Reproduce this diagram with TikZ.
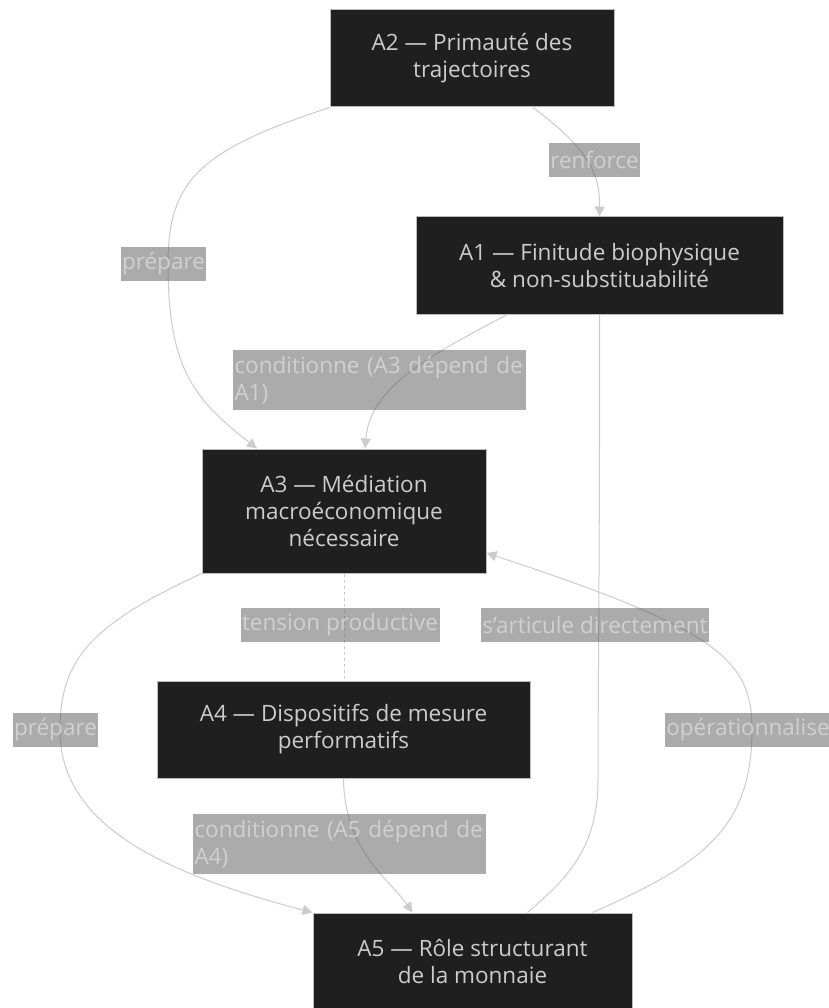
\documentclass[tikz,border=0pt]{standalone}
\usepackage{fontspec}
\setmainfont{Open Sans}
\usetikzlibrary{arrows.meta}
\definecolor{nodefill}{HTML}{1F1F1F}
\definecolor{nodetext}{HTML}{CCCCCC}
\definecolor{nodeborder}{HTML}{BBBBBB}
\definecolor{edgecol}{HTML}{CCCCCC}
\definecolor{lblfill}{HTML}{585858}
\definecolor{lbltext}{HTML}{D0D0D0}
\tikzset{
  box/.style={draw=nodeborder, fill=nodefill, text=nodetext, line width=1pt,
    inner sep=0pt, align=center, font=\fontsize{22.5}{27}\selectfont},
  lbl/.style={fill=lblfill, fill opacity=0.5, text opacity=1, text=lbltext,
    inner sep=1.5pt, minimum height=34pt, font=\fontsize{22.5}{27}\selectfont},
  lbltwo/.style={lbl, align=left, text width=290pt, minimum height=60pt},
  conn/.style={draw=edgecol, line width=1pt},
  arr/.style={conn, -{Triangle[length=10pt,width=10pt]}},
}
\begin{document}
\begin{tikzpicture}[x=1pt,y=-1pt]
\useasboundingbox (0,0) rectangle (828,1008);
\fill[white] (0,0) rectangle (828,1008);
% nodes
\node[box, minimum width=284pt, minimum height=97pt] (A2) at (472,58.5) {A2 — Primauté des\\trajectoires};
\node[box, minimum width=367pt, minimum height=97pt] (A1) at (599.5,265.5) {A1 — Finitude biophysique\\\& non-substituabilité};
\node[box, minimum width=284pt, minimum height=124pt] (A3) at (344,511) {A3 — Médiation\\macroéconomique\\nécessaire};
\node[box, minimum width=373pt, minimum height=97pt] (A4) at (343.5,729.5) {A4 — Dispositifs de mesure\\performatifs};
\node[box, minimum width=319pt, minimum height=97pt, text depth=0pt] (A5) at (472.5,961.5) {A5 — Rôle structurant\\de la monnaie};
% edges
\draw[arr] ([xshift=61pt]A2.south) .. controls (590,150) and (600,175) .. (A1.north);
\draw[arr] (A2.south west) .. controls (200,150) and (168,180) .. (168,264)
   .. controls (168,370) and (195,400) .. ([xshift=-87pt]A3.north);
\draw[arr] ([xshift=-92pt]A1.south) .. controls (420,360) and (370,390) .. ([xshift=21pt]A3.north);
\draw[conn, dash pattern=on 3pt off 3pt] (A3.south) -- (A3.south |- A4.north);
\draw[arr] (A3.south west) .. controls (90,625) and (60,660) .. (60,730)
   .. controls (60,820) and (150,870) .. (A5.north west);
\draw[arr] (A4.south) .. controls (344,850) and (390,880) .. ([xshift=-60pt]A5.north);
\draw[conn] (A1.south) .. controls (600,500) and (598,700) .. (598,780)
   .. controls (598,850) and (565,880) .. ([xshift=55pt]A5.north);
\draw[arr] ([xshift=120pt]A5.north) .. controls (700,865) and (752,830) .. (752,730)
   .. controls (752,660) and (720,630) .. ([yshift=-42pt]A3.east);
% labels
\node[lbl] (Lrenf) at (594.5,160) {renforce};
\node[lbl] (Lprep1) at (163.5,264) {prépare};
\node[lbltwo] (Lcond1) at (379.5,380) {conditionne (A3 dépend de\\A1)};
\node[lbl] (Ltens) at (340,625) {tension productive};
\node[lbl] (Lartic) at (595,625) {s’articule directement};
\node[lbl] (Lprep2) at (55.5,730) {prépare};
\node[lbl] (Lopera) at (748,730) {opérationnalise};
\node[lbltwo] (Lcond2) at (339.5,844) {conditionne (A5 dépend de\\A4)};
\end{tikzpicture}
\end{document}
